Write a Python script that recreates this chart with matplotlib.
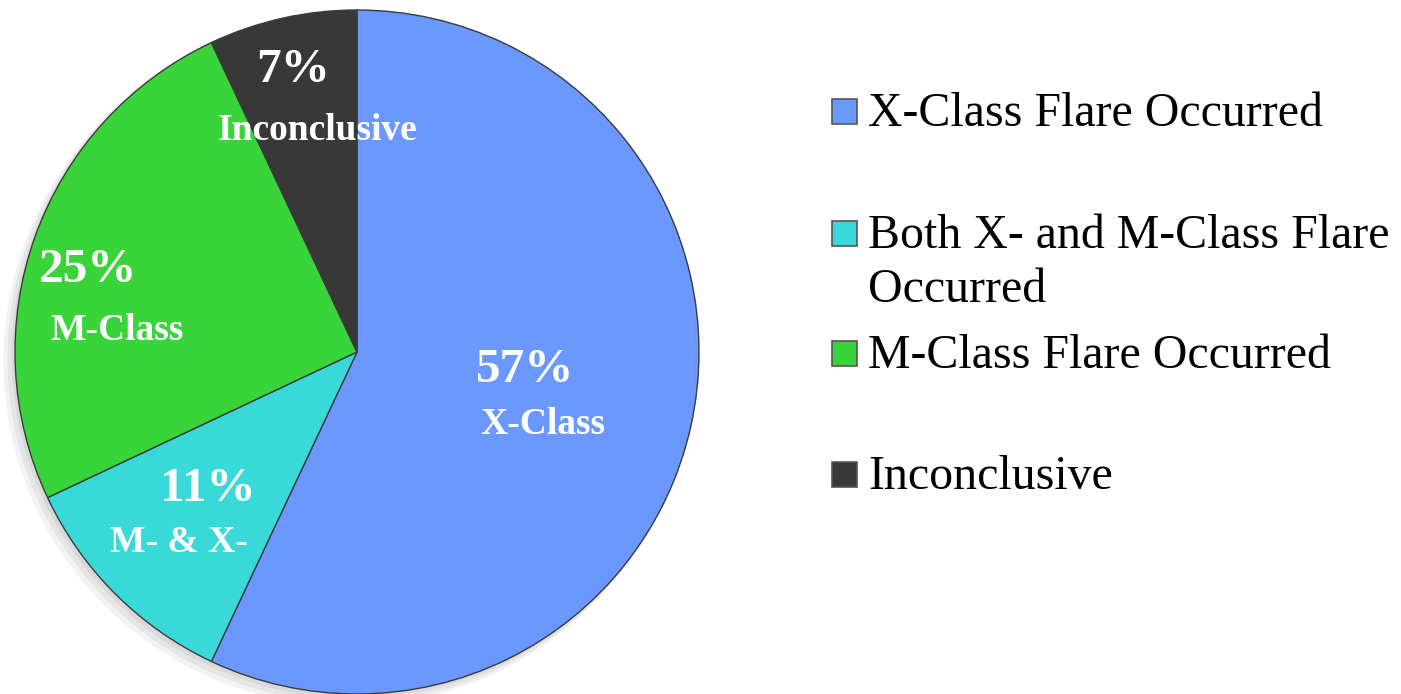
import matplotlib
matplotlib.use("Agg")
import matplotlib.pyplot as plt
from matplotlib.patches import Rectangle, Circle

# ---- data ----
categories = ["X-Class Flare Occurred",
              "Both X- and M-Class Flare\nOccurred",
              "M-Class Flare Occurred",
              "Inconclusive"]
values = [57, 11, 25, 7]
slice_labels = ["X-Class", "M- & X-", "M-Class", "Inconclusive"]
colors = ["#6A98FF", "#3AD9D9", "#38D43A", "#383838"]

W, H = 1401, 694
fig = plt.figure(figsize=(W / 100, H / 100), dpi=100)
ax = fig.add_axes([0, 0, 1, 1])

cx, cy, R = 357, 352, 342  # pixel layout of pie
xlim = (-cx / R, (W - cx) / R)
ylim = ((cy - H) / R, cy / R)

# soft shadow
for i, a in enumerate([0.05, 0.05, 0.05]):
    ax.add_patch(Circle((-0.01 - 0.008 * i, -0.012 - 0.008 * i), 1.0 + 0.004 * i,
                        color="black", alpha=a, zorder=0, lw=0))

wedges, _ = ax.pie(values, colors=colors, startangle=90, counterclock=False,
                   radius=1.0, center=(0, 0),
                   wedgeprops=dict(edgecolor="#3a3a3a", linewidth=1.0))
ax.set_xlim(*xlim)
ax.set_ylim(*ylim)
ax.set_aspect("auto")
ax.axis("off")

serif = ["Liberation Serif", "DejaVu Serif"]

# slice labels (percent + name), positions in pixels
pct_pos = [(525, 370), (208, 489), (88, 270), (293, 70)]
name_pos = [(543, 425), (179, 542), (117, 331), (318, 130)]
for v, lab, pp, npos in zip(values, slice_labels, pct_pos, name_pos):
    ax.text((pp[0] - cx) / R, (cy - pp[1]) / R, f"{v}%", color="white",
            fontsize=35.5, fontweight="bold", family=serif, ha="center", va="center")
    ax.text((npos[0] - cx) / R, (cy - npos[1]) / R, lab, color="white",
            fontsize=27, fontweight="bold", family=serif, ha="center", va="center")

# legend (manual, positions in pixels)
marker_y = [111, 233, 353, 474]
text_y = [114, 263, 356, 477]
mx, ms, tx = 832, 25, 868
for lab, col, my, ty in zip(categories, colors, marker_y, text_y):
    fig.patches.append(Rectangle((mx / W, 1 - (my + ms / 2) / H), ms / W, ms / H,
                                 transform=fig.transFigure, facecolor=col,
                                 edgecolor="#555555", linewidth=1.2))
    fig.text(tx / W, 1 - ty / H, lab, fontsize=34.5, family=serif, color="black",
             ha="left", va="center", linespacing=1.3)

fig.savefig("out.png", dpi=100)
